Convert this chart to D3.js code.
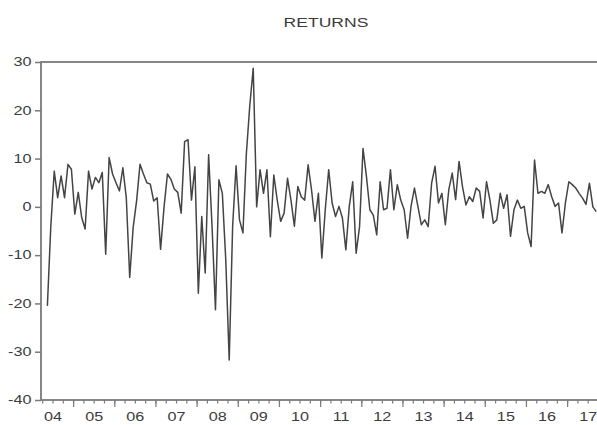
<!DOCTYPE html>
<html>
<head>
<meta charset="utf-8">
<script src="https://cdn.jsdelivr.net/npm/d3@7"></script>
<style>
	body { margin: 0; background: #fff; }
	text { font-family: "Liberation Sans", Arial, sans-serif; fill: #3c3c3c; }
</style>
</head>
<body>
<svg width="597" height="425"></svg>
<script>
// monthly series, first observation 2004M05
const startYear = 2004;
const startMonth = 5;
const returns = [
	-20.5, -4, 7.4, 1.9, 6.4, 1.9, 8.8, 7.8, -1.5, 3.0,
	-2.2, -4.6, 7.4, 3.7, 6.1, 5.0, 7.1, -9.8, 10.2, 6.8,
	5.0, 3.3, 8.1, 1.9, -14.6, -4.3, 1.2, 8.8, 6.8, 5.0,
	4.7, 1.2, 1.9, -8.8, -0.1, 6.8, 5.7, 3.7, 3.0, -1.3,
	13.5, 13.9, 1.4, 8.3, -17.9, -2, -13.7, 10.8, -4, -21.3,
	5.6, 2.8, -11, -31.7, -4, 8.5, -2.7, -5.4, 11, 21,
	28.7, 0, 7.7, 2.8, 7.7, -6.2, 6.6, 1.4, -3, -1.3,
	5.9, 1.4, -4, 4.2, 2.1, 1.4, 8.7, 3.5, -3, 2.8,
	-10.6, -0.6, 7.7, 0.8, -2.0, 0.1, -2.3, -8.9, 0.1, 5.2,
	-9.6, -4.1, 12.1, 6.3, -0.6, -1.7, -5.8, 5.2, -0.6, -0.3,
	7.7, -0.6, 4.6, 1.4, -0.6, -6.5, 0.1, 3.9, 0.1, -3.7,
	-2.7, -4.1, 4.9, 8.4, 0.8, 2.8, -3.7, 3.5, 7.0, 1.5,
	9.4, 4.2, 0.4, 2.1, 1.1, 3.9, 3.2, -2.3, 5.2, 1.4,
	-3.4, -2.7, 2.8, -0.3, 2.5, -6.1, -0.6, 1.4, -0.3, 0.1,
	-5.4, -8.2, 9.7, 2.8, 3.2, 2.8, 4.6, 2.1, 0.1, 0.8,
	-5.4, 0.8, 5.2, 4.6, 3.9, 2.8, 1.8, 0.5, 4.9, 0, -1,
];
const yTicks = [-40, -30, -20, -10, 0, 10, 20, 30];
const years = [2004, 2005, 2006, 2007, 2008, 2009, 2010, 2011, 2012, 2013, 2014, 2015, 2016, 2017];
const yearLabels = ["04", "05", "06", "07", "08", "09", "10", "11", "12", "13", "14", "15", "16", "17"];
const title = "RETURNS";

// the picture is stretched sideways, so the text is too
const stretch = 1.35;
const frameColor = "#7a7a7a";

const svg = d3.select("svg");
const plotLeft = 41, plotRight = 598, plotTop = 62, plotBottom = 400;

const data = returns.map((v, i) => ({
	t: startYear + (startMonth - 1 + i + 0.5) / 12,
	v,
}));

const x = d3.scaleLinear().domain([2004.22, 2017.75]).range([plotLeft, plotRight]);
const y = d3.scaleLinear().domain([-40, 30]).range([plotBottom, plotTop]);

// title
svg.append("text")
	.attr("transform", `translate(326,27) scale(${stretch},1)`)
	.attr("text-anchor", "middle")
	.attr("font-size", 13)
	.text(title);

// y axis, plain hyphen for the minus sign
const yAxisG = svg.append("g")
	.attr("transform", `translate(${plotLeft},0)`)
	.call(
		d3.axisLeft(y)
			.tickValues(yTicks)
			.tickSize(6)
			.tickPadding(3.5)
			.tickFormat((d) => String(d)),
	);
yAxisG.select(".domain").remove();
yAxisG.selectAll("line").attr("stroke", frameColor).attr("stroke-width", 1.5);
yAxisG.selectAll("text")
	.attr("font-size", 12)
	.attr("fill", "#3c3c3c")
	.attr("x", -9.5 / stretch)
	.attr("transform", `scale(${stretch},1)`);

// x axis: quarter ticks, year ticks, labels centred in each year
const quarters = d3.range(2004.25, 2017.76, 0.25);
const minorG = svg.append("g")
	.attr("transform", `translate(0,${plotBottom})`)
	.call(d3.axisBottom(x).tickValues(quarters).tickSize(3.5).tickFormat(""));
const majorG = svg.append("g")
	.attr("transform", `translate(0,${plotBottom})`)
	.call(d3.axisBottom(x).tickValues(years.slice(1)).tickSize(7).tickFormat(""));
[minorG, majorG].forEach((g) => {
	g.select(".domain").remove();
	g.selectAll("line").attr("stroke", frameColor).attr("stroke-width", 1.2);
});

const labelG = svg.append("g")
	.attr("transform", `translate(0,${plotBottom})`)
	.call(
		d3.axisBottom(x)
			.tickValues(years.map((d) => d + 0.5))
			.tickSize(0)
			.tickPadding(12.5)
			.tickFormat((d, i) => yearLabels[i]),
	);
labelG.select(".domain").remove();
labelG.selectAll("text")
	.attr("font-size", 12)
	.attr("fill", "#3c3c3c")
	.attr("transform", `scale(${stretch},1)`);

// frame
svg.append("rect")
	.attr("x", plotLeft)
	.attr("y", plotTop)
	.attr("width", plotRight - plotLeft)
	.attr("height", plotBottom - plotTop)
	.attr("fill", "none")
	.attr("stroke", frameColor)
	.attr("stroke-width", 1.8);

// series
const line = d3.line()
	.x((d) => x(d.t))
	.y((d) => y(d.v));

svg.append("path")
	.datum(data)
	.attr("fill", "none")
	.attr("stroke", "#444")
	.attr("stroke-width", 1.5)
	.attr("stroke-linejoin", "round")
	.attr("d", line);
</script>
</body>
</html>
